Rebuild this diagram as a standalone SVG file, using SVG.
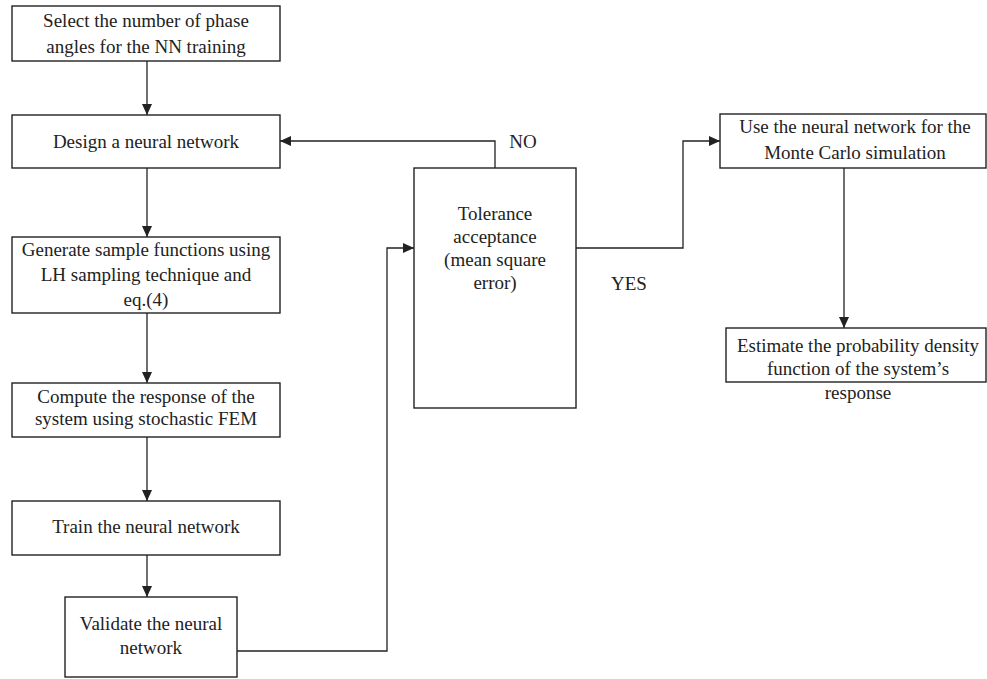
<svg xmlns="http://www.w3.org/2000/svg" width="987" height="679" viewBox="0 0 987 679">
<style>
.box{fill:#fff;stroke:#222;stroke-width:1.4}
.ln{fill:none;stroke:#222;stroke-width:1.3}
text{font-family:'Liberation Serif','DejaVu Serif',serif;font-size:19px;fill:#222;text-anchor:middle}
</style>
<defs>
<marker id="ah" viewBox="0 0 11 10" refX="11" refY="5" markerWidth="11" markerHeight="10" markerUnits="userSpaceOnUse" orient="auto">
<path d="M0,0 L11,5 L0,10 Z" fill="#222"/>
</marker>
</defs>
<rect width="987" height="679" fill="#fff"/>
<g id="connectors">
<line class="ln" x1="147" y1="61" x2="147" y2="115" marker-end="url(#ah)"/>
<line class="ln" x1="147" y1="168" x2="147" y2="237" marker-end="url(#ah)"/>
<line class="ln" x1="147" y1="313" x2="147" y2="383" marker-end="url(#ah)"/>
<line class="ln" x1="147" y1="437" x2="147" y2="501" marker-end="url(#ah)"/>
<line class="ln" x1="147" y1="555" x2="147" y2="597" marker-end="url(#ah)"/>
<polyline class="ln" points="237,651 387,651 387,248 414,248" marker-end="url(#ah)"/>
<polyline class="ln" points="495,168 495,141 280,141" marker-end="url(#ah)"/>
<polyline class="ln" points="576,248 683,248 683,141 720,141" marker-end="url(#ah)"/>
<line class="ln" x1="844" y1="168" x2="844" y2="328" marker-end="url(#ah)"/>
<text x="523" y="148">NO</text>
<text x="629" y="290">YES</text>
</g>
<g id="n1"><rect class="box" x="12" y="6" width="268" height="55"/>
<text x="146" y="27">Select the number of phase</text><text x="146" y="53">angles for the NN training</text></g>
<g id="n2"><rect class="box" x="12" y="115" width="268" height="53"/>
<text x="146" y="148">Design a neural network</text></g>
<g id="n3"><rect class="box" x="12" y="237" width="268" height="76"/>
<text x="146" y="256">Generate sample functions using</text><text x="146" y="281">LH sampling technique and</text><text x="146" y="306">eq.(4)</text></g>
<g id="n4"><rect class="box" x="12" y="383" width="268" height="54"/>
<text x="146" y="403">Compute the response of the</text><text x="146" y="425">system using stochastic FEM</text></g>
<g id="n5"><rect class="box" x="12" y="501" width="268" height="54"/>
<text x="146" y="533">Train the neural network</text></g>
<g id="n6"><rect class="box" x="65" y="597" width="172" height="80"/>
<text x="151" y="630">Validate the neural</text><text x="151" y="654">network</text></g>
<g id="n7"><rect class="box" x="414" y="168" width="162" height="240"/>
<text x="495" y="220">Tolerance</text><text x="495" y="243">acceptance</text><text x="495" y="266">(mean square</text><text x="495" y="289">error)</text></g>
<g id="n8"><rect class="box" x="720" y="114" width="266" height="54"/>
<text x="855" y="133">Use the neural network for the</text><text x="855" y="159">Monte Carlo simulation</text></g>
<g id="n9"><rect class="box" x="726" y="328" width="260" height="54"/>
<text x="858" y="352">Estimate the probability density</text><text x="858" y="375">function of the system’s</text><text x="858" y="399">response</text></g>
</svg>
